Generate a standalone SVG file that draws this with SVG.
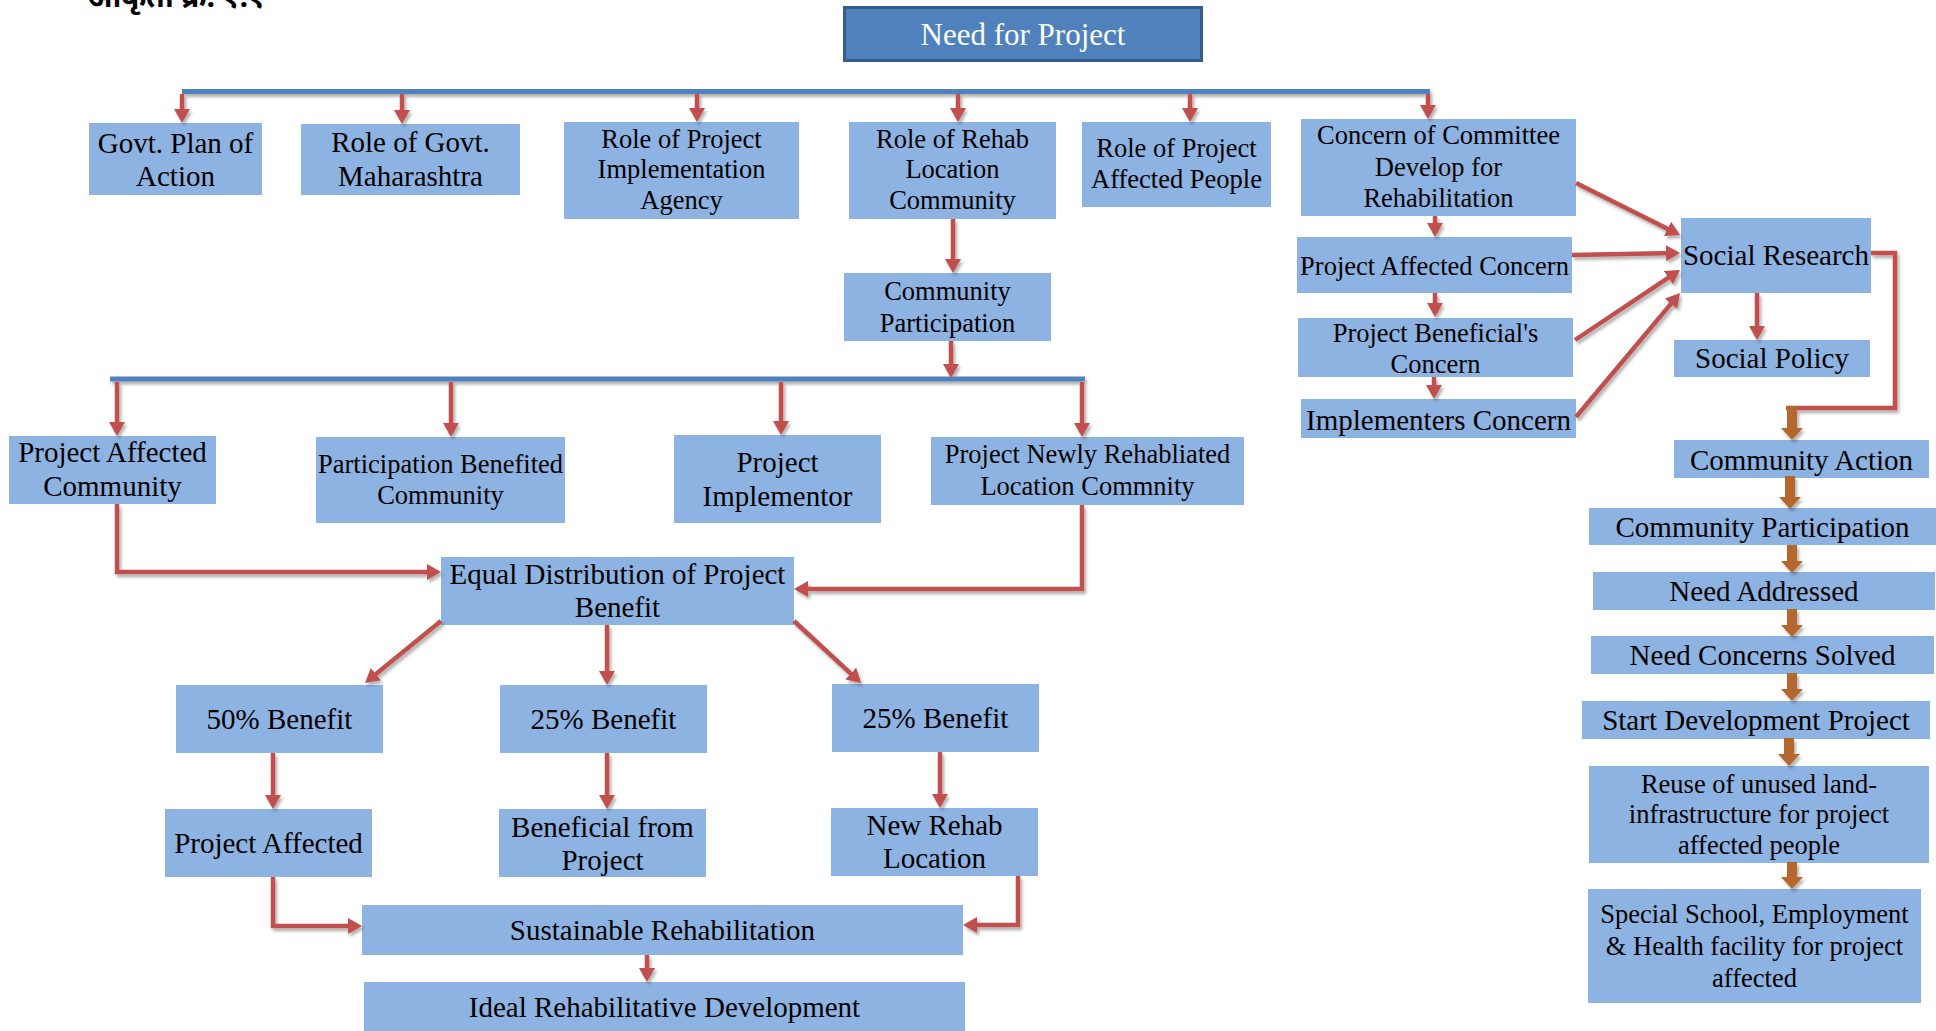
<svg xmlns="http://www.w3.org/2000/svg" width="1936" height="1031" viewBox="0 0 1936 1031">
<defs>
<style>
.box{fill:#8DB3E2}
.t{font-family:"Liberation Serif","Times New Roman",serif;fill:#000;text-anchor:middle}
.a{font-size:29px}
.b{font-size:26.5px}
.red{fill:none;stroke:#C0504D;stroke-width:4.5}
.redA{fill:none;stroke:#C0504D;stroke-width:4.5;marker-end:url(#ah)}
.bus{fill:none;stroke:#4F81BD;stroke-width:5}
.brn{fill:none;stroke:#B5682F;stroke-width:10;marker-end:url(#bh)}
</style>
<marker id="ah" markerUnits="userSpaceOnUse" viewBox="0 0 14 16" markerWidth="14" markerHeight="16" refX="10" refY="8" orient="auto"><path d="M0,0 L14,8 L0,16 Z" fill="#C0504D"/></marker>
<marker id="bh" markerUnits="userSpaceOnUse" viewBox="0 0 12 22" markerWidth="12" markerHeight="22" refX="2" refY="11" orient="auto"><path d="M0,0 L12,11 L0,22 Z" fill="#B5682F"/></marker>
<filter id="sh" x="-5%" y="-5%" width="110%" height="110%"><feDropShadow dx="2" dy="3" stdDeviation="1.8" flood-color="#000" flood-opacity="0.3"/></filter>
</defs>
<rect width="1936" height="1031" fill="#fff"/>
<text x="87" y="7" font-family="'Noto Sans Devanagari','Lohit Devanagari','Noto Sans',sans-serif" font-size="30" font-weight="bold" fill="#000">आकृती क्र. १.१</text>

<g id="nodes">
<g id="need-for-project"><rect x="844.5" y="7.5" width="357" height="53" fill="#4F81BD" stroke="#385D8A" stroke-width="3"/><text class="t" x="1023" y="45" font-size="31" fill="#fff" style="fill:#fff">Need for Project</text></g>
<g id="govt-plan"><rect class="box" x="89" y="123" width="173" height="72"/><text class="t a"><tspan x="175.5" y="153">Govt. Plan of</tspan><tspan x="175.5" y="186">Action</tspan></text></g>
<g id="role-govt"><rect class="box" x="301" y="124" width="219" height="71"/><text class="t a"><tspan x="410.5" y="152">Role of Govt.</tspan><tspan x="410.5" y="186">Maharashtra</tspan></text></g>
<g id="role-pia"><rect class="box" x="564" y="122" width="235" height="97"/><text class="t b"><tspan x="681.5" y="148">Role of Project</tspan><tspan x="681.5" y="178">Implementation</tspan><tspan x="681.5" y="209">Agency</tspan></text></g>
<g id="role-rehab"><rect class="box" x="849" y="122" width="207" height="97"/><text class="t b"><tspan x="952.5" y="148">Role of Rehab</tspan><tspan x="952.5" y="178">Location</tspan><tspan x="952.5" y="209">Community</tspan></text></g>
<g id="role-pap"><rect class="box" x="1082" y="122" width="189" height="85"/><text class="t b"><tspan x="1176.5" y="157">Role of Project</tspan><tspan x="1176.5" y="188">Affected People</tspan></text></g>
<g id="concern-committee"><rect class="box" x="1301" y="119" width="275" height="97"/><text class="t b"><tspan x="1438.5" y="144">Concern of Committee</tspan><tspan x="1438.5" y="176">Develop for</tspan><tspan x="1438.5" y="207">Rehabilitation</tspan></text></g>
<g id="pa-concern"><rect class="box" x="1297" y="237" width="275" height="56"/><text class="t b" x="1434.5" y="275">Project Affected Concern</text></g>
<g id="pb-concern"><rect class="box" x="1298" y="318" width="275" height="59"/><text class="t b"><tspan x="1435.5" y="342">Project Beneficial's</tspan><tspan x="1435.5" y="373">Concern</tspan></text></g>
<g id="impl-concern"><rect class="box" x="1301" y="399" width="275" height="39"/><text class="t a" x="1438.5" y="430">Implementers Concern</text></g>
<g id="social-research"><rect class="box" x="1681" y="218" width="190" height="75"/><text class="t a" x="1776" y="265">Social Research</text></g>
<g id="social-policy"><rect class="box" x="1674" y="340" width="196" height="37"/><text class="t a" x="1772" y="368">Social Policy</text></g>
<g id="community-participation-1"><rect class="box" x="844" y="273" width="207" height="68"/><text class="t b"><tspan x="947.5" y="300">Community</tspan><tspan x="947.5" y="332">Participation</tspan></text></g>
<g id="pa-community"><rect class="box" x="9" y="436" width="207" height="68"/><text class="t a"><tspan x="112.5" y="462">Project Affected</tspan><tspan x="112.5" y="496">Community</tspan></text></g>
<g id="pb-community"><rect class="box" x="316" y="437" width="249" height="86"/><text class="t b"><tspan x="440.5" y="473">Participation Benefited</tspan><tspan x="440.5" y="504">Community</tspan></text></g>
<g id="project-implementor"><rect class="box" x="674" y="435" width="207" height="88"/><text class="t a"><tspan x="777.5" y="472">Project</tspan><tspan x="777.5" y="506">Implementor</tspan></text></g>
<g id="newly-rehab"><rect class="box" x="931" y="437" width="313" height="68"/><text class="t b"><tspan x="1087.5" y="463">Project Newly Rehabliated</tspan><tspan x="1087.5" y="495">Location Commnity</tspan></text></g>
<g id="equal-distribution"><rect class="box" x="441" y="557" width="353" height="68"/><text class="t a"><tspan x="617.5" y="584">Equal Distribution of Project</tspan><tspan x="617.5" y="617">Benefit</tspan></text></g>
<g id="benefit-50"><rect class="box" x="176" y="685" width="207" height="68"/><text class="t a" x="279.5" y="729">50% Benefit</text></g>
<g id="benefit-25a"><rect class="box" x="500" y="685" width="207" height="68"/><text class="t a" x="603.5" y="729">25% Benefit</text></g>
<g id="benefit-25b"><rect class="box" x="832" y="684" width="207" height="68"/><text class="t a" x="935.5" y="728">25% Benefit</text></g>
<g id="project-affected"><rect class="box" x="165" y="809" width="207" height="68"/><text class="t a" x="268.5" y="853">Project Affected</text></g>
<g id="beneficial"><rect class="box" x="499" y="809" width="207" height="68"/><text class="t a"><tspan x="602.5" y="837">Beneficial from</tspan><tspan x="602.5" y="870">Project</tspan></text></g>
<g id="new-rehab"><rect class="box" x="831" y="808" width="207" height="68"/><text class="t a"><tspan x="934.5" y="835">New Rehab</tspan><tspan x="934.5" y="868">Location</tspan></text></g>
<g id="sustainable"><rect class="box" x="362" y="905" width="601" height="50"/><text class="t a" x="662.5" y="940">Sustainable Rehabilitation</text></g>
<g id="ideal"><rect class="box" x="364" y="982" width="601" height="55"/><text class="t a" x="664.5" y="1017">Ideal Rehabilitative Development</text></g>
<g id="community-action"><rect class="box" x="1674" y="440" width="255" height="38"/><text class="t a" x="1801.5" y="470">Community Action</text></g>
<g id="community-participation-2"><rect class="box" x="1589" y="508" width="347" height="37"/><text class="t a" x="1762.5" y="537">Community Participation</text></g>
<g id="need-addressed"><rect class="box" x="1593" y="572" width="342" height="38"/><text class="t a" x="1764" y="601">Need Addressed</text></g>
<g id="need-concerns"><rect class="box" x="1591" y="636" width="343" height="38"/><text class="t a" x="1762.5" y="665">Need Concerns Solved</text></g>
<g id="start-dev"><rect class="box" x="1582" y="701" width="348" height="38"/><text class="t a" x="1756" y="730">Start Development Project</text></g>
<g id="reuse"><rect class="box" x="1589" y="766" width="340" height="97"/><text class="t b"><tspan x="1759" y="793">Reuse of unused land-</tspan><tspan x="1759" y="823">infrastructure for project</tspan><tspan x="1759" y="854">affected people</tspan></text></g>
<g id="special-school"><rect class="box" x="1588" y="889" width="333" height="114"/><text class="t b"><tspan x="1754.5" y="923">Special School, Employment</tspan><tspan x="1754.5" y="955">&amp; Health facility for project</tspan><tspan x="1754.5" y="987">affected</tspan></text></g>
</g>

<g id="connectors" filter="url(#sh)">
<path class="bus" d="M182,91.5 H1430"/>
<path class="bus" d="M110,379 H1085"/>
<path class="redA" d="M182,94 V119"/>
<path class="redA" d="M402,94 V120"/>
<path class="redA" d="M697,94 V118"/>
<path class="redA" d="M958,94 V118"/>
<path class="redA" d="M1190,94 V118"/>
<path class="redA" d="M1428,94 V115"/>
<path class="redA" d="M953,219 V269"/>
<path class="redA" d="M951,341 V374"/>
<path class="redA" d="M117,382 V432"/>
<path class="redA" d="M451,382 V433"/>
<path class="redA" d="M781,382 V431"/>
<path class="redA" d="M1082,382 V433"/>
<path class="redA" d="M117,504 V572 H437"/>
<path class="redA" d="M1082,505 V589 H798"/>
<path class="redA" d="M441,621 L368.1,680.5"/>
<path class="redA" d="M607,625 V681"/>
<path class="redA" d="M794,621 L858.1,680.3"/>
<path class="redA" d="M273,753 V805"/>
<path class="redA" d="M607,753 V805"/>
<path class="redA" d="M940,752 V804"/>
<path class="redA" d="M273,877 V926 H358"/>
<path class="redA" d="M1018,876 V925 H967"/>
<path class="redA" d="M647,955 V978"/>
<path class="redA" d="M1435,216 V233"/>
<path class="redA" d="M1435,293 V313"/>
<path class="redA" d="M1434,377 V395"/>
<path class="redA" d="M1576,183 L1676.4,233.2"/>
<path class="redA" d="M1572,255 L1676,253.1"/>
<path class="redA" d="M1575,340 L1676.7,272.2"/>
<path class="redA" d="M1576,417 L1677.4,296.1"/>
<path class="redA" d="M1757,293 V336"/>
<path class="red" d="M1871,253 H1895 V408 H1786"/>
<path class="brn" d="M1792,406 V430"/>
<path class="brn" d="M1790,476 V499"/>
<path class="brn" d="M1792,545 V563"/>
<path class="brn" d="M1792,609 V627"/>
<path class="brn" d="M1792,673 V691"/>
<path class="brn" d="M1789,738 V756"/>
<path class="brn" d="M1792,862 V879"/>
</g>
</svg>
